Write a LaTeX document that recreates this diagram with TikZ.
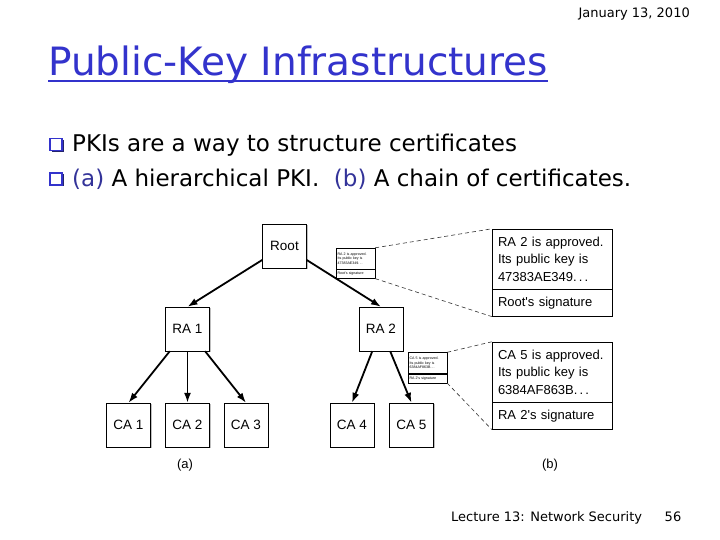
\documentclass[tikz,border=0pt]{standalone}
\usepackage{fontspec}
\setmainfont{DejaVu Sans}
\newfontfamily\figfont{Liberation Sans}
\usetikzlibrary{positioning, shadows, arrows.meta}
\definecolor{slideblue}{RGB}{51,51,204}
\definecolor{labelblue}{RGB}{51,51,153}

\begin{document}
\begin{tikzpicture}[
    x=1pt, y=-1pt,
    box/.style = {rectangle, draw=black, fill=white, minimum width=44pt, minimum height=44pt, inner sep=0pt, font=\figfont\fontsize{13.5}{15}\selectfont, drop shadow={shadow xshift=1pt, shadow yshift=-1pt, fill=black!25, opacity=1}},
    certtop/.style = {rectangle, draw=black, fill=white, minimum width=120pt, minimum height=60pt, inner sep=0pt, text width=108pt, align=left, font=\figfont\fontsize{13}{17.5}\selectfont, drop shadow={shadow xshift=1pt, shadow yshift=-1pt, fill=black!25, opacity=1}},
    certbot/.style = {certtop, minimum height=27pt},
    tinytop/.style = {rectangle, draw=black, fill=white, line width=0.4pt, minimum width=39pt, minimum height=21pt, inner sep=0pt, text width=36pt, align=left, font=\figfont\fontsize{3.6}{4.4}\selectfont},
    tinybot/.style = {tinytop, minimum height=9pt},
    line/.style = {draw=black, line width=1.8pt, -{Latex[length=10pt, width=7pt]}},
    dashline/.style = {draw=black!80, dash pattern=on 4pt off 3pt, line width=0.6pt},
    bullet/.style = {rectangle, draw=slideblue, line width=1.4pt, fill=white, minimum size=12pt, inner sep=0pt, drop shadow={shadow xshift=1.5pt, shadow yshift=-1.5pt, fill=labelblue!70!black, opacity=1}},
    slidetext/.style = {anchor=base west, inner sep=0pt, font=\fontsize{23}{27}\selectfont}
]
    \fill [white] (0,0) rectangle (720,540);
    \useasboundingbox (0,0) rectangle (720,540);

    % Header
    \node [anchor=base east, inner sep=0pt, font=\fontsize{13}{15}\selectfont] (date) at (690,18) {January 13, 2010};
    \node [anchor=base west, inner sep=0pt, text=slideblue, font=\fontsize{39}{44}\selectfont] (title) at (48,76) {Public-Key Infrastructures};
    \draw [slideblue, line width=2pt] ([yshift=-5.5pt]title.base west) -- ([yshift=-5.5pt]title.base east);

    % Bullets
    \node [bullet] (bul1) at (56,144.5) {};
    \node [slidetext] (pki) at (72,152) {PKIs are a way to structure certificates};
    \node [bullet] (bul2) at (56,179) {};
    \node [slidetext] (chain) at (72,187) {\textcolor{labelblue}{(a)} A hierarchical PKI.\ \ \textcolor{labelblue}{(b)} A chain of certificates.};

    % Hierarchy
    \node [box] (root) at (284.5,246) {Root};
    \node [box] (ra1) at (187.5,329) {RA 1};
    \node [box] (ra2) at (381,329) {RA 2};
    \node [box] (ca1) at (128.5,425) {CA 1};
    \node [box] (ca2) at (187.5,425) {CA 2};
    \node [box] (ca3) at (246,425) {CA 3};
    \node [box] (ca4) at (352,425) {CA 4};
    \node [box] (ca5) at (411.5,425) {CA 5};
    \node [font=\figfont\fontsize{13}{15}\selectfont] (capa) at (185,465) {(a)};

    % Small certificates
    \node [tinytop] (tiny1) at (355.5,258.5) {RA 2 is approved. Its public key is 47383AE349.\,.\,.};
    \node [tinybot, below=0pt of tiny1] (tinysig1) {Root's signature};
    \node [tinytop] (tiny2) at (427.5,363) {CA 5 is approved. Its public key is 6384AF863B.\,.\,.};
    \node [tinybot, below=0pt of tiny2] (tinysig2) {RA 2's signature};

    % Enlarged certificates
    \node [certtop] (cert1) at (552,259) {RA 2 is approved.\\ Its public key is\\ 47383AE349.\,.\,.};
    \node [certbot, below=0pt of cert1] (sig1) {Root's signature};
    \node [certtop] (cert2) at (552,372) {CA 5 is approved.\\ Its public key is\\ 6384AF863B.\,.\,.};
    \node [certbot, below=0pt of cert2] (sig2) {RA 2's signature};
    \node [font=\figfont\fontsize{13}{15}\selectfont] (capb) at (550,465) {(b)};

    % Arrows
    \draw [line] (root) -- (ra1.north);
    \draw [line] (root) -- (ra2.north);
    \draw [line] (ra1) -- (ca1.north);
    \draw [line] (ra1) -- (ca2.north);
    \draw [line] (ra1) -- (ca3.north);
    \draw [line] (ra2) -- (ca4.north);
    \draw [line] (ra2) -- (ca5.north);

    % Zoom lines
    \draw [dashline] (tiny1.north east) -- (cert1.north west);
    \draw [dashline] (tinysig1.south east) -- (sig1.south west);
    \draw [dashline] (tiny2.north east) -- (cert2.north west);
    \draw [dashline] (tinysig2.south east) -- (sig2.south west);

    % Footer
    \node [anchor=base west, inner sep=0pt, font=\fontsize{13}{15}\selectfont] (footer) at (451,521) {Lecture 13: Network Security};
    \node [anchor=base, inner sep=0pt, font=\fontsize{13}{15}\selectfont] (page) at (673,521) {56};
\end{tikzpicture}
\end{document}
